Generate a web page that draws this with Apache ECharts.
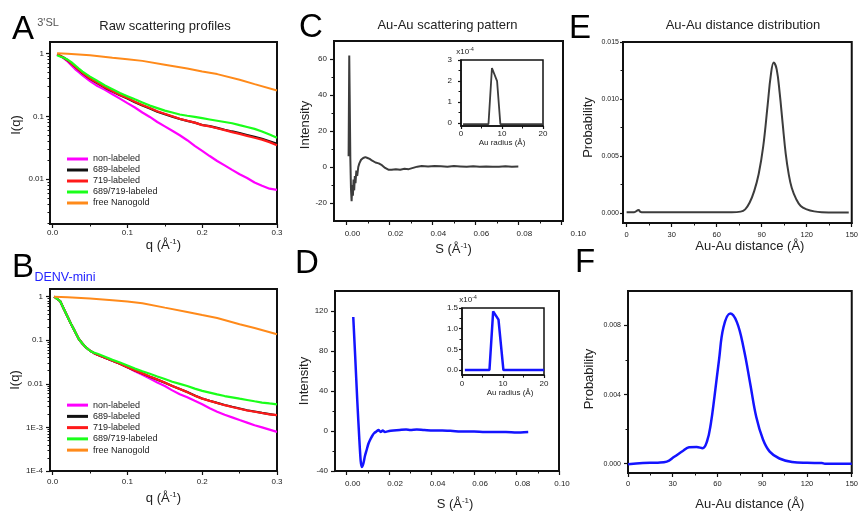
<!DOCTYPE html>
<html><head><meta charset="utf-8">
<script src="https://cdn.jsdelivr.net/npm/echarts@6/dist/echarts.min.js"></script>
<style>html,body{margin:0;padding:0;background:#fff}#c{width:861px;height:512px}</style>
</head><body><div id="c"></div>
<script>
// ---------------- data ----------------
const seriesNames = ['non-labeled','689-labeled','719-labeled','689/719-labeled','free Nanogold'];

// Panel A (3'SL) raw scattering profiles, q in 1/A, I(q)
const qA = [0.006,0.01,0.015,0.02,0.025,0.03,0.035,0.04,0.05,0.06,0.07,0.08,0.09,0.10,0.11,0.12,0.13,0.14,0.15,0.16,0.17,0.18,0.19,0.20,0.21,0.22,0.23,0.24,0.25,0.26,0.27,0.28,0.29,0.30];
const A_non  = [0.977,0.912,0.832,0.741,0.646,0.562,0.501,0.447,0.363,0.302,0.263,0.224,0.191,0.162,0.138,0.115,0.0977,0.0813,0.0692,0.0589,0.0501,0.0417,0.0339,0.0282,0.0234,0.0195,0.0166,0.0141,0.0120,0.0105,0.0089,0.0079,0.0071,0.0068];
const A_689  = [0.955,0.912,0.851,0.776,0.690,0.614,0.546,0.486,0.394,0.335,0.285,0.248,0.216,0.192,0.167,0.148,0.133,0.118,0.108,0.099,0.0905,0.0848,0.0795,0.0728,0.0698,0.0655,0.0613,0.0575,0.0540,0.0505,0.0472,0.0440,0.0402,0.0365];
const A_719  = [0.955,0.912,0.851,0.776,0.692,0.617,0.550,0.490,0.398,0.339,0.288,0.251,0.219,0.195,0.170,0.151,0.135,0.120,0.110,0.100,0.0912,0.0851,0.0794,0.0724,0.0692,0.0646,0.0603,0.0562,0.0525,0.0490,0.0457,0.0427,0.0389,0.0347];
const A_both = [0.933,0.891,0.851,0.794,0.724,0.646,0.575,0.513,0.427,0.363,0.309,0.269,0.234,0.209,0.186,0.166,0.148,0.135,0.123,0.115,0.107,0.102,0.0977,0.0933,0.0891,0.0851,0.0813,0.0776,0.0724,0.0676,0.0631,0.0575,0.0513,0.0457];
const qNanoA = [0.006,0.02,0.05,0.08,0.10,0.12,0.15,0.18,0.20,0.22,0.25,0.27,0.30];
const A_nano = [1.0,0.989,0.933,0.851,0.804,0.759,0.661,0.575,0.513,0.468,0.380,0.324,0.257];
const yTicksA = [1,0.1,0.01];
const yTickTextA = ['1','0.1','0.01'];

// Panel B (DENV-mini)
const qB = [0.002,0.01,0.015,0.02,0.025,0.03,0.035,0.04,0.045,0.05,0.055,0.06,0.07,0.08,0.09,0.10,0.11,0.12,0.13,0.14,0.15,0.16,0.17,0.18,0.19,0.20,0.21,0.22,0.23,0.24,0.25,0.26,0.27,0.28,0.29,0.30];
const B_non  = [1.0,0.794,0.525,0.347,0.229,0.158,0.107,0.0832,0.0676,0.0575,0.0513,0.0468,0.0398,0.0339,0.0288,0.0240,0.0195,0.0162,0.0132,0.0107,0.00891,0.00708,0.00575,0.00490,0.00407,0.00339,0.00275,0.00229,0.00195,0.00170,0.00148,0.00129,0.00112,0.00100,0.00089,0.00079];
const B_689  = [1.0,0.794,0.525,0.347,0.229,0.158,0.107,0.0832,0.0676,0.0575,0.0513,0.0468,0.0398,0.0339,0.0288,0.0240,0.0202,0.0172,0.0146,0.0125,0.0106,0.0089,0.0076,0.0065,0.0054,0.0046,0.0041,0.00366,0.00328,0.00298,0.00272,0.00248,0.00232,0.00216,0.00202,0.00190];
const B_719  = [1.0,0.794,0.525,0.347,0.229,0.158,0.107,0.0832,0.0676,0.0575,0.0513,0.0468,0.0398,0.0339,0.0288,0.0240,0.0204,0.0174,0.0148,0.0126,0.0107,0.00891,0.00759,0.00646,0.00537,0.00457,0.00407,0.00363,0.00324,0.00295,0.00269,0.00245,0.00229,0.00214,0.00200,0.00191];
const B_both = [1.0,0.794,0.525,0.347,0.229,0.158,0.107,0.0832,0.0676,0.0575,0.052,0.049,0.0417,0.0355,0.0309,0.0263,0.0224,0.0195,0.0170,0.0148,0.0129,0.0112,0.0100,0.00891,0.00776,0.00692,0.00631,0.00575,0.00525,0.00490,0.00457,0.00427,0.00398,0.00372,0.00355,0.00339];
const qNanoB = [0.002,0.02,0.05,0.08,0.10,0.12,0.15,0.18,0.20,0.22,0.25,0.27,0.30];
const B_nano = [1.0,0.977,0.912,0.832,0.776,0.708,0.562,0.447,0.380,0.324,0.234,0.191,0.138];
const yTicksB = [1,0.1,0.01,0.001,0.0001];
const yTickTextB = ['1','0.1','0.01','1E-3','1E-4'];

// Panel C: Au-Au scattering pattern (3'SL)
const sC = [0.0010,0.0013,0.0015,0.0018,0.0021,0.0024,0.0027,0.0030,0.0033,0.0036,0.0039,0.0042,0.0046,0.0050,0.0055,0.0060,0.0068,0.0078,0.0088,0.0098,0.0108,0.0120,0.0135,0.0150,0.0165,0.0180,0.0195,0.0210,0.0230,0.0250,0.0270,0.0290,0.0310,0.0330,0.0350,0.0380,0.0410,0.0440,0.0470,0.0500,0.0530,0.0560,0.0590,0.0620,0.0650,0.0680,0.0710,0.0740,0.0770,0.0800];
const iC = [6,62,40,5,-12,-19,-10,-16,-7,-13,-5,-9,-2,-5,0,2,4,5,5.5,5,4.5,3.5,2.5,2,1,-0.5,-1.5,-1.5,-1.2,-1.5,-1,-1.2,-0.5,0.2,0.5,0.3,0.6,0.4,0.2,0.5,0.3,0.1,0.4,0.2,0.3,0.1,0.2,0.4,0.2,0.3];
// inset C: Au radius distribution (x1e-4)
const rC = [0.5,3,6.7,7.55,8.8,9.6,12,16,20];
const pC = [-0.04,-0.04,-0.04,2.62,2.0,-0.04,-0.04,-0.04,-0.04];

// Panel D: Au-Au scattering pattern (DENV-mini)
const sD = [0.0031,0.0040,0.0050,0.0060,0.0066,0.0071,0.0078,0.0086,0.0094,0.0102,0.0110,0.0120,0.0130,0.0140,0.0150,0.0160,0.0170,0.0180,0.0200,0.0220,0.0250,0.0280,0.0300,0.0330,0.0360,0.0400,0.0450,0.0500,0.0550,0.0600,0.0650,0.0700,0.0750,0.0800,0.0855];
const iD = [114,75,30,-10,-30,-36,-33,-25,-19,-13,-9,-5,-2,-0.5,1,-1,0.5,-1,0,0.5,1,1.5,1,1.5,1,0.5,0.5,0,-0.5,-0.5,-1,-1,-1,-1.5,-1];
// inset D
const rD = [0.7,4,6.7,7.6,8.9,10.1,14,20];
const pD = [0,0,0,1.42,1.22,0,0,0];

// Panel E: Au-Au distance distribution (3'SL)
const dE = [0,5,8,9,10,20,40,60,70,76,79,82,85,88,91,94,96,98,100,102,104,106,108,110,113,116,120,125,130,140,148];
const pE = [0.00005,0.00005,0.00025,0.0001,0.00005,0.00005,0.00005,0.00005,0.00005,0.0001,0.0003,0.0009,0.0019,0.0034,0.0058,0.0095,0.0120,0.0132,0.0126,0.0105,0.0078,0.0052,0.0034,0.0022,0.0012,0.0006,0.0003,0.00012,0.00005,0.00003,0.00003];

// Panel F: Au-Au distance distribution (DENV-mini)
const dF = [0,10,20,26,31,37,41,46,50,53,55.5,58,61,64,68.5,73,77.5,82,86,90.5,95,101.5,110,120,130,132,150];
const pF = [-0.00003,0.00004,0.00006,0.00012,0.0004,0.00075,0.00095,0.00097,0.0009,0.0013,0.0023,0.0039,0.0060,0.0079,0.0087,0.0082,0.0067,0.0046,0.0027,0.0014,0.0007,0.0003,0.0001,0.00005,0.00004,0,0];

// ---------------- build ----------------
const FONT = '"Liberation Sans", Arial, Helvetica, sans-serif';
const INK = '#111';
const TXT = '#222';
const BLUE = '#1414ff';
const DARK = '#3c3c3c';
const lineColors = ['#ff00ff','#111111','#ff1a1a','#1aff1a','#ff8a1a'];

const grids = [
  {left:50, top:42, width:227, height:182},   // 0 A
  {left:50, top:289, width:227, height:182},  // 1 B
  {left:334, top:41, width:229, height:180},  // 2 C
  {left:461, top:60, width:82, height:66},    // 3 C inset
  {left:335, top:291, width:224, height:180}, // 4 D
  {left:462, top:308, width:82, height:67},   // 5 D inset
  {left:623, top:42, width:232, height:181},  // 6 E
  {left:628, top:291, width:227, height:182}  // 7 F
].map((g, i) => Object.assign({show:true, borderColor:INK, borderWidth:(i===3||i===5)?1.5:2, backgroundColor:'#fff', containLabel:false}, g));

const xAxes = [], yAxes = [];
function range(a, b, s) { const r = []; for (let v = a; v <= b + 1e-12; v += s) r.push(+v.toFixed(10)); return r; }
function rich(size) {
  return {
    n:{fontSize:size, fontFamily:FONT, color:TXT, lineHeight:size+2},
    sup:{fontSize:Math.round(size*0.62), fontFamily:FONT, color:TXT, lineHeight:Math.round(size*0.62), verticalAlign:'top'}
  };
}
function addAxis(list, dim, c) {
  const base = {type:'value', gridIndex:c.grid, min:c.min, max:c.max, position: dim==='x'?'bottom':'left', splitLine:{show:false}};
  list.push(Object.assign({}, base, {
    axisLine:{show:true, onZero:false, lineStyle:{color:INK, width:c.lw||2}},
    axisTick:{show:true, inside:false, customValues:c.majors, length:c.tl||4, lineStyle:{color:INK, width:1.2}},
    axisLabel:{show:true, customValues:c.labels||c.majors, formatter:c.fmt, fontSize:c.fs||8, color:TXT, fontFamily:FONT, margin:c.margin, rich:c.lrich},
    name:c.name||'', nameLocation:c.nameLoc||'middle', nameGap:c.nameGap||0, nameRotate:c.nameRotate,
    nameTextStyle:Object.assign({fontSize:c.nfs||13, color:TXT, fontFamily:FONT}, c.nstyle||{})
  }));
  const idx = list.length - 1;
  if (c.minors) {
    list.push(Object.assign({}, base, {
      axisLine:{show:false, onZero:false}, axisLabel:{show:false},
      axisTick:{show:true, inside:false, customValues:c.minors, length:2.5, lineStyle:{color:INK, width:1}}
    }));
  }
  return idx;
}
function logMinors(lo, hi) {
  const out = [];
  for (let n = Math.floor(lo) - 1; n <= Math.ceil(hi); n++)
    for (let k = 2; k <= 9; k++) { const v = Math.log10(k) + n; if (v > lo && v < hi) out.push(v); }
  return out;
}
function pickLabel(ticks, texts) {
  return (v) => { let best = 0; ticks.forEach((t, i) => { if (Math.abs(Math.log10(t) - v) < Math.abs(Math.log10(ticks[best]) - v)) best = i; }); return texts[best]; };
}
const qName = '{n|q (Å}{sup|-1}{n|)}';
const sName = '{n|S (Å}{sup|-1}{n|)}';
const sFmt = (v) => v > 0.099 ? '{b|0.10}' : '{a|' + v.toFixed(2) + '}';
const sRich = (padB) => ({a:{fontSize:8, fontFamily:FONT, color:TXT, padding:[0,0,0,12]}, b:{fontSize:8, fontFamily:FONT, color:TXT, padding:[0,0,0,padB]}});

// A
const AminY = -2.71, AmaxY = 0.18;
const xA = addAxis(xAxes, 'x', {grid:0, min:-0.0035, max:0.3, majors:[0,0.1,0.2,0.3], minors:[0.05,0.15,0.25], fmt:v=>v.toFixed(1), margin:5,
  name:qName, nameGap:14, nstyle:{rich:rich(13)}});
const yA = addAxis(yAxes, 'y', {grid:0, min:AminY, max:AmaxY, majors:yTicksA.map(Math.log10), minors:logMinors(AminY, AmaxY), fmt:pickLabel(yTicksA, yTickTextA), margin:6,
  name:'I(q)', nameGap:27, nameRotate:90, nstyle:{padding:[0,0,0,16]}});
// B
const BminY = -4, BmaxY = 0.177;
const xB = addAxis(xAxes, 'x', {grid:1, min:-0.0035, max:0.3, majors:[0,0.1,0.2,0.3], minors:[0.05,0.15,0.25], fmt:v=>v.toFixed(1), margin:7,
  name:qName, nameGap:20, nstyle:{rich:rich(13)}});
const yB = addAxis(yAxes, 'y', {grid:1, min:BminY, max:BmaxY, majors:yTicksB.map(Math.log10), minors:logMinors(BminY, BmaxY), fmt:pickLabel(yTicksB, yTickTextB), margin:7,
  name:'I(q)', nameGap:27, nameRotate:90});
// C
const xC = addAxis(xAxes, 'x', {grid:2, min:-0.0058, max:0.1008, majors:range(0,0.1,0.02), minors:range(0.01,0.09,0.02), fmt:sFmt, lrich:sRich(34), margin:9,
  name:sName, nameGap:21, nstyle:{rich:rich(13), padding:[0,0,0,10]}});
const yC = addAxis(yAxes, 'y', {grid:2, min:-30, max:70, majors:range(-20,60,20), minors:[-10,10,30,50], fmt:v=>String(v), margin:7,
  name:'Intensity', nameGap:21, nameRotate:90, nstyle:{padding:[0,0,0,12]}});
// C inset
const xCi = addAxis(xAxes, 'x', {grid:3, min:0, max:20, majors:[0,10,20], minors:[5,15], fmt:v=>String(v), margin:4, lw:1.5, tl:3,
  name:'Au radius (Å)', nameGap:13, nfs:8});
const yCi = addAxis(yAxes, 'y', {grid:3, min:-0.13, max:3, majors:[0,1,2,3], minors:[0.5,1.5,2.5], fmt:v=>String(v), margin:9, lw:1.5, tl:3,
  name:'{n|x10}{sup|-4}', nameLoc:'end', nameGap:3, nstyle:{rich:rich(8), padding:[0,0,0,8]}});
// D
const xD = addAxis(xAxes, 'x', {grid:4, min:-0.0055, max:0.10, majors:range(0,0.1,0.02), minors:range(0.01,0.09,0.02), fmt:sFmt, lrich:sRich(6), margin:9,
  name:sName, nameGap:26, nstyle:{rich:rich(13), padding:[0,0,0,16]}});
const yD = addAxis(yAxes, 'y', {grid:4, min:-40, max:140, majors:range(-40,120,40), minors:[-20,20,60,100], fmt:v=>String(v), margin:7,
  name:'Intensity', nameGap:22, nameRotate:90});
// D inset
const xDi = addAxis(xAxes, 'x', {grid:5, min:0, max:20, majors:[0,10,20], minors:[5,15], fmt:v=>String(v), margin:5, lw:1.5, tl:3,
  name:'Au radius (Å)', nameGap:8, nfs:8, nstyle:{padding:[0,0,0,14]}});
const yDi = addAxis(yAxes, 'y', {grid:5, min:-0.12, max:1.5, majors:[0,0.5,1,1.5], minors:[0.25,0.75,1.25], fmt:v=>v.toFixed(1), margin:4, lw:1.5, tl:3,
  name:'{n|x10}{sup|-4}', nameLoc:'end', nameGap:2, nstyle:{rich:rich(8), padding:[0,0,0,12]}});
// E
const xE = addAxis(xAxes, 'x', {grid:6, min:-2.4, max:150, majors:range(0,150,30), minors:range(15,135,30), fmt:v=>String(v), margin:8, fs:7.5,
  name:'Au-Au distance (Å)', nameGap:7, nstyle:{padding:[0,0,0,25]}});
const yE = addAxis(yAxes, 'y', {grid:6, min:-0.0009, max:0.015, majors:[0,0.005,0.01,0.015], minors:[0.0025,0.0075,0.0125], fmt:v=>v.toFixed(3), margin:4, fs:7, tl:3,
  name:'Probability', nameGap:28, nameRotate:90, nstyle:{padding:[0,0,0,10]}});
// F
const xF = addAxis(xAxes, 'x', {grid:7, min:0, max:150, majors:range(0,150,30), minors:range(15,135,30), fmt:v=>String(v), margin:7, fs:7.5,
  name:'Au-Au distance (Å)', nameGap:25, nstyle:{padding:[0,0,0,20]}});
const yF = addAxis(yAxes, 'y', {grid:7, min:-0.00054, max:0.010, majors:[0,0.004,0.008], minors:[0.002,0.006], fmt:v=>v.toFixed(3), margin:7, fs:7,
  name:'Probability', nameGap:32, nameRotate:90, nstyle:{padding:[0,0,0,6]}});

function pairs(xs, ys, tf) { return xs.map((x, i) => [x, tf ? tf(ys[i]) : ys[i]]); }
function line(name, xi, yi, data, color, width, extra) {
  return Object.assign({type:'line', name, xAxisIndex:xi, yAxisIndex:yi, data, symbol:'none', silent:true,
    lineStyle:{color, width}, itemStyle:{color}, emphasis:{disabled:true}}, extra||{});
}
const L = Math.log10;
const series = [
  line(seriesNames[0], xA, yA, pairs(qA, A_non, L), lineColors[0], 2.2),
  line(seriesNames[1], xA, yA, pairs(qA, A_689, L), lineColors[1], 2.2),
  line(seriesNames[2], xA, yA, pairs(qA, A_719, L), lineColors[2], 2.2),
  line(seriesNames[3], xA, yA, pairs(qA, A_both, L), lineColors[3], 2.2),
  line(seriesNames[4], xA, yA, pairs(qNanoA, A_nano, L), lineColors[4], 2),
  line(seriesNames[0], xB, yB, pairs(qB, B_non, L), lineColors[0], 2.2),
  line(seriesNames[1], xB, yB, pairs(qB, B_689, L), lineColors[1], 2.2),
  line(seriesNames[2], xB, yB, pairs(qB, B_719, L), lineColors[2], 2.2),
  line(seriesNames[3], xB, yB, pairs(qB, B_both, L), lineColors[3], 2.2),
  line(seriesNames[4], xB, yB, pairs(qNanoB, B_nano, L), lineColors[4], 2),
  line('C', xC, yC, pairs(sC, iC), DARK, 2),
  line('Cin', xCi, yCi, pairs(rC, pC), DARK, 1.8),
  line('D', xD, yD, pairs(sD, iD), BLUE, 2.5, {smooth:0.2}),
  line('Din', xDi, yDi, pairs(rD, pD), BLUE, 2.5),
  line('E', xE, yE, pairs(dE, pE), DARK, 2, {smooth:0.4}),
  line('F', xF, yF, pairs(dF, pF), BLUE, 2.5, {smooth:0.4})
];

function legend(top, lh) {
  return {orient:'vertical', left:67, top, itemWidth:21, itemHeight:3, itemGap:0, icon:'rect', selectedMode:false,
    data:seriesNames, textStyle:{fontSize:9, fontFamily:FONT, color:TXT, lineHeight:lh, padding:[0,0,0,0]}, padding:0};
}

function txt(text, x, y, size, color, extra) {
  return Object.assign({type:'text', x, y, silent:true, style:{text, fontSize:size, fontFamily:FONT, fill:color||TXT,
    align:'center', verticalAlign:'middle', textAlign:'center', textVerticalAlign:'middle'}}, extra||{});
}
const graphics = [
  txt('A', 23, 30, 33, '#000'), txt('B', 23, 268, 33, '#000'),
  txt('C', 311, 28, 33, '#000'), txt('D', 307, 264, 33, '#000'),
  txt('E', 580, 29, 33, '#000'), txt('F', 585, 263, 33, '#000'),
  txt("3'SL", 48, 22.5, 11, '#555'),
  txt('DENV-mini', 65, 277.5, 12.5, '#2323ff'),
  txt('Raw scattering profiles', 165, 26, 13),
  txt('Au-Au scattering pattern', 447.5, 25, 13),
  txt('Au-Au distance distribution', 743, 25, 13)
];

const chart = echarts.init(document.getElementById('c'), null, {renderer:'canvas', width:861, height:512});
chart.setOption({
  animation:false,
  backgroundColor:'#fff',
  textStyle:{fontFamily:FONT},
  grid:grids,
  xAxis:xAxes,
  yAxis:yAxes,
  legend:[legend(153.5, 11), legend(399.5, 11.25)],
  series,
  graphic:graphics
});
</script></body></html>
